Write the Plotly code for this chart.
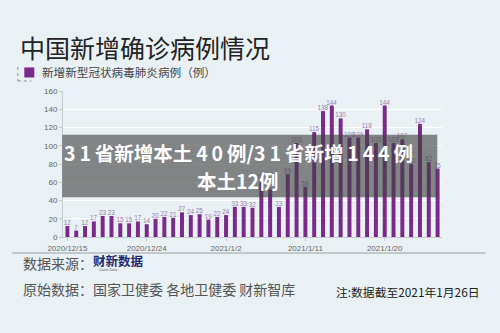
import plotly.graph_objects as go

dates = ["2020/12/15", "2020/12/16", "2020/12/17", "2020/12/18", "2020/12/19", "2020/12/20",
         "2020/12/21", "2020/12/22", "2020/12/23", "2020/12/24", "2020/12/25", "2020/12/26",
         "2020/12/27", "2020/12/28", "2020/12/29", "2020/12/30", "2020/12/31", "2021/1/1",
         "2021/1/2", "2021/1/3", "2021/1/4", "2021/1/5", "2021/1/6", "2021/1/7",
         "2021/1/8", "2021/1/9", "2021/1/10", "2021/1/11", "2021/1/12", "2021/1/13",
         "2021/1/14", "2021/1/15", "2021/1/16", "2021/1/17", "2021/1/18", "2021/1/19",
         "2021/1/20", "2021/1/21", "2021/1/22", "2021/1/23", "2021/1/24", "2021/1/25",
         "2021/1/26"]
cases = [12, 7, 12, 17, 23, 23, 15, 15, 17, 14, 20, 22, 21, 27, 24, 25, 19, 22,
         24, 33, 33, 32, 63, 52, 33, 69, 103, 55, 115, 138, 144, 130, 109, 109, 118, 103,
         144, 103, 107, 80, 124, 82, 75]
tick_dates = ["2020/12/15", "2020/12/24", "2021/1/2", "2021/1/11", "2021/1/20"]
y_ticks = [0, 20, 40, 60, 80, 100, 120, 140, 160]

W, H = 500, 333
PL, PR, PT, PB = 62.7, 441.7, 91.0, 236.7

def px(x):
    return (x - PL) / (PR - PL)

def py(y):
    return (PB - y) / (PB - PT)

CJK = "Noto Sans CJK SC"
BG = "#e9f1f5"
PURPLE = "#7a2a8b"
TS = "\u2009"  # thin space for the overlay's wide digit spacing

fig = go.Figure()
fig.add_bar(
    x=dates, y=cases,
    marker=dict(color=PURPLE, line=dict(width=0)),
    text=[str(v) for v in cases], textposition="outside",
    textfont=dict(size=6.3, color="#9a80b0", family="Liberation Sans"),
    constraintext="none", cliponaxis=False,
    hoverinfo="skip",
)

fig.update_layout(
    width=W, height=H,
    margin=dict(l=PL, r=W - PR, t=PT, b=H - PB, pad=0),
    paper_bgcolor=BG, plot_bgcolor=BG,
    bargap=0.55, showlegend=False,
    font=dict(family=CJK),
)
fig.update_xaxes(
    type="category", range=[-0.5, len(dates) - 0.5],
    tickmode="array", tickvals=tick_dates, ticktext=tick_dates,
    tickfont=dict(size=8, color="#666666", family="Liberation Sans"),
    showgrid=False, showline=True, linecolor="#c4cacd", linewidth=1,
    ticks="outside", ticklen=3, tickcolor="#c4cacd",
)
fig.update_yaxes(
    range=[0, 160], tickmode="array", tickvals=y_ticks,
    tickfont=dict(size=8, color="#666666", family="Liberation Sans"),
    showgrid=True, gridcolor="#ffffff", gridwidth=1,
    showline=True, linecolor="#c4cacd", linewidth=1,
    ticks="outside", ticklen=3, tickcolor="#c4cacd", zeroline=False,
)

shapes = []
shapes.append(dict(type="rect", xref="paper", yref="paper",
                   x0=px(62), x1=px(437), y0=py(197), y1=py(134.7),
                   fillcolor="rgba(65,65,65,0.62)", line=dict(width=0), layer="above"))
shapes.append(dict(type="rect", xref="paper", yref="paper",
                   x0=px(24), x1=px(34), y0=py(77.5), y1=py(67.5),
                   fillcolor=PURPLE, line=dict(width=0)))
shapes.append(dict(type="line", xref="paper", yref="paper",
                   x0=px(17.5), x1=px(17.5), y0=py(67), y1=py(81),
                   line=dict(color="#8a9094", width=1, dash="dot")))
shapes.append(dict(type="line", xref="paper", yref="paper",
                   x0=px(17.5), x1=px(31), y0=py(81), y1=py(81),
                   line=dict(color="#8a9094", width=1, dash="dot")))
shapes.append(dict(type="line", xref="paper", yref="paper",
                   x0=px(12), x1=px(485), y0=py(252.7), y1=py(252.7),
                   line=dict(color="#b3babe", width=1.5)))
fig.update_layout(shapes=shapes)

ann = []
def T(text, x, y, size, color, xanchor="left", family=CJK, bold=False):
    ann.append(dict(text=(f"<b>{text}</b>" if bold else text), xref="paper", yref="paper",
                    x=px(x), y=py(y), xanchor=xanchor, yanchor="middle", showarrow=False,
                    font=dict(size=size, color=color, family=family)))

line1 = TS.join("31") + TS + "省新增本土" + TS + TS.join("40") + TS + "例/" + TS.join("31") + TS \
    + "省新增" + TS + TS.join("144") + TS + "例"
line2 = "本土12例"

T("中国新增确诊病例情况", 18, 47, 25, "#222222")
T("新增新型冠状病毒肺炎病例（例）", 40, 72.5, 11.6, "#444444")
T(line1, 238, 152, 19.5, "#ffffff", xanchor="center", bold=True)
T(line2, 238, 180, 19.5, "#ffffff", xanchor="center", bold=True)
T("数据来源：", 21, 262.5, 14, "#555555")
T("财新数据", 91, 260.5, 12.5, "#1e2a6e", bold=True)
T("Caixin Data", 108, 269.5, 3.5, "#555555", xanchor="center", family="Liberation Sans")
T("原始数据：国家卫健委 各地卫健委 财新智库", 21, 289, 14, "#555555")
T("注:数据截至2021年1月26日", 482, 291, 11.8, "#222222", xanchor="right")
fig.update_layout(annotations=ann)

fig.write_html("out.html")
